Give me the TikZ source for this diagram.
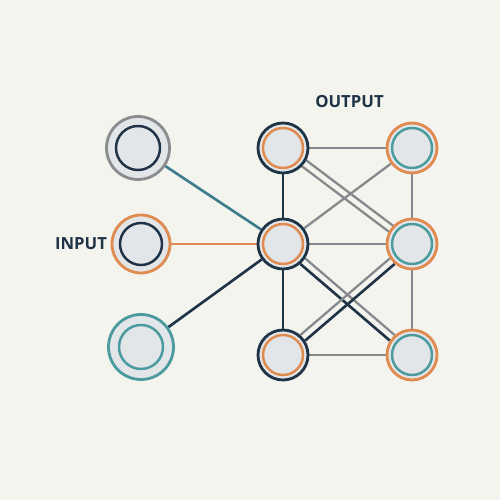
\documentclass[tikz,border=0pt]{standalone}
\usepackage{fontspec}
\setmainfont{Open Sans}
\usetikzlibrary{backgrounds}
\definecolor{bgcol}{HTML}{F4F4EF}
\definecolor{cellfill}{HTML}{E3E6E9}
\definecolor{navy}{HTML}{1F3347}
\definecolor{orng}{HTML}{E08A4F}
\definecolor{tealc}{HTML}{4A9A9E}
\definecolor{tealline}{HTML}{3D7C8C}
\definecolor{ringgray}{HTML}{8A8C8E}
\definecolor{linegray}{HTML}{86898C}
\tikzset{
  neuron/.style={circle, fill=cellfill, draw=#1, line width=1.6pt, inner sep=0pt},
  core/.style 2 args={path picture={\draw[#1, line width=1.4pt] (path picture bounding box.center) circle (#2);}},
  caption/.style={font=\bfseries\fontsize{9.5}{11}\selectfont, text=navy},
}
\begin{document}
\begin{tikzpicture}
\useasboundingbox (0,0) rectangle (10,10);
\begin{scope}[on background layer]
\fill[bgcol] (0,0) rectangle (10,10);
\end{scope}

% input layer
\node[neuron=ringgray, core={navy}{0.44cm}, minimum size=1.26cm] (i1) at (2.76,7.04) {};
\node[neuron=orng, core={navy}{0.42cm}, minimum size=1.16cm] (i2) at (2.82,5.12) {};
\node[neuron=tealc, core={tealc}{0.44cm}, minimum size=1.30cm] (i3) at (2.82,3.06) {};

% hidden layer
\node[neuron=navy, core={orng}{0.40cm}, minimum size=1.0cm] (h1) at (5.66,7.04) {};
\node[neuron=navy, core={orng}{0.40cm}, minimum size=1.0cm] (h2) at (5.66,5.12) {};
\node[neuron=navy, core={orng}{0.40cm}, minimum size=1.0cm] (h3) at (5.66,2.90) {};

% output layer
\node[neuron=orng, core={tealc}{0.40cm}, minimum size=1.0cm] (o1) at (8.24,7.04) {};
\node[neuron=orng, core={tealc}{0.40cm}, minimum size=1.0cm] (o2) at (8.24,5.12) {};
\node[neuron=orng, core={tealc}{0.40cm}, minimum size=1.0cm] (o3) at (8.24,2.90) {};

\node[caption] (inlabel) at (1.62,5.12) {INPUT};
\node[caption] (outlabel) at (6.99,7.96) {OUTPUT};

\begin{scope}[on background layer]
\path[draw=tealline,line width=1.5pt] (i1) -- (h2);
\path[draw=orng,line width=1.5pt] (i2) -- (h2);
\path[draw=navy,line width=1.5pt] (i3) -- (h2);

\path[draw=navy,line width=1.5pt] (h1) -- (h2);
\path[draw=navy,line width=1.5pt] (h2) -- (h3);
\path[draw=linegray,line width=1.3pt] (o1) -- (o2);
\path[draw=linegray,line width=1.3pt] (o2) -- (o3);

\path[draw=linegray,line width=1.3pt] (h1) -- (o1);
\path[draw=linegray,line width=1.3pt] (h2) -- (o2);
\path[draw=linegray,line width=1.3pt] (h3) -- (o3);

\path[draw=linegray,line width=1.3pt] (h1.-28) -- (o2.136);
\path[draw=linegray,line width=1.3pt] (h1.-44) -- (o2.152);
\path[draw=linegray,line width=1.3pt] (h2) -- (o1);
\path[draw=linegray,line width=1.3pt] (h2.-33) -- (o3.131);
\path[draw=navy,line width=1.5pt] (h2.-49) -- (o3.147);
\path[draw=linegray,line width=1.3pt] (h3.49) -- (o2.213);
\path[draw=navy,line width=1.5pt] (h3.33) -- (o2.229);
\end{scope}
\end{tikzpicture}
\end{document}
